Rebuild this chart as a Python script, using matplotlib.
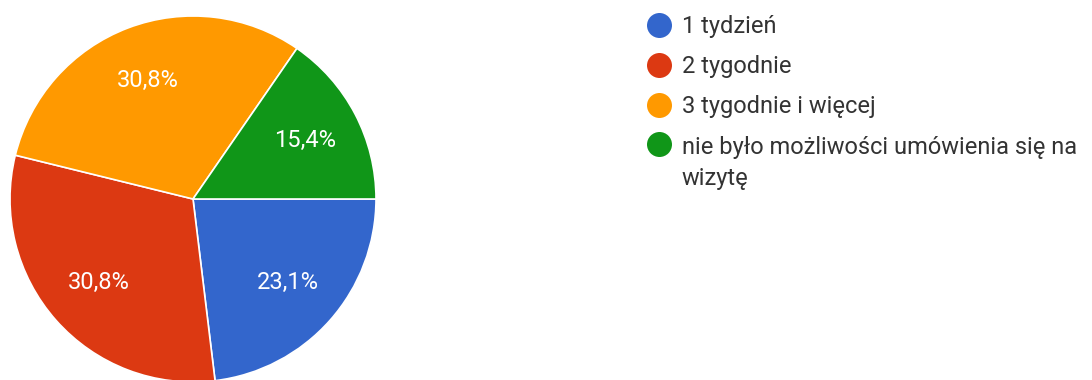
import matplotlib.pyplot as plt

plt.rcParams['font.family'] = ['Roboto', 'DejaVu Sans']

labels = ['1 tydzień', '2 tygodnie', '3 tygodnie i więcej',
          'nie było możliwości umówienia się na\nwizytę']
shares = [23.1, 30.8, 30.8, 15.4]
colors = ['#3366cc', '#dc3912', '#ff9900', '#109618']

W, H = 1092, 380
fig = plt.figure(figsize=(W / 100, H / 100), dpi=100)

# pie axes: centre (193, 199) px, radius 183 px
cx, cy, r = 193, 199, 183
ax = fig.add_axes([(cx - r) / W, (H - cy - r) / H, 2 * r / W, 2 * r / H])
wedges, texts, autotexts = ax.pie(
    shares, colors=colors, startangle=0, counterclock=False,
    autopct=lambda p: f'{p:.1f}%'.replace('.', ','), pctdistance=0.69,
    wedgeprops=dict(edgecolor='white', linewidth=1.2),
    textprops=dict(color='white', fontsize=17))
ax.set_xlim(-1, 1)
ax.set_ylim(-1, 1)
ax.set_aspect('equal')
ax.axis('off')

# legend drawn in pixel coordinates; baseline of a wrapped label sits on its last line
lax = fig.add_axes([0, 0, 1, 1])
lax.set_xlim(0, W)
lax.set_ylim(H, 0)
lax.axis('off')
row_y = [25, 65, 105, 144]
line_step = 33
for y, lab, col in zip(row_y, labels, colors):
    lax.plot(659, y, 'o', color=col, markersize=18, markeredgewidth=0)
    extra = lab.count('\n') * line_step
    lax.text(682, y + 8 + extra, lab, color='#333333', fontsize=17, va='baseline',
             linespacing=1.47)

fig.savefig('out.png', dpi=100, facecolor='white')
